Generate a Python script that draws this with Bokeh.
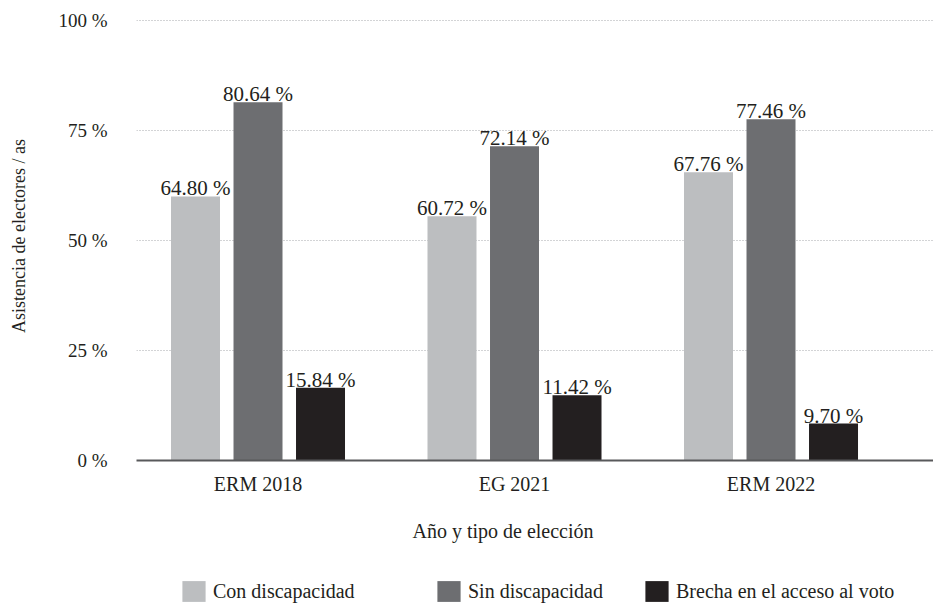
from bokeh.plotting import figure
from bokeh.layouts import column
from bokeh.models import ColumnDataSource, FixedTicker, Legend, LegendItem, Range1d, Title
from bokeh.transform import dodge
from bokeh.embed import file_html
from bokeh.resources import INLINE
from bokeh.core.properties import value

# ---- data ----
categories = ["ERM 2018", "EG 2021", "ERM 2022"]
series_names = ["Con discapacidad", "Sin discapacidad", "Brecha en el acceso al voto"]
con_disc = [60.0, 55.5, 65.5]
sin_disc = [81.4, 71.4, 77.5]
brecha = [16.5, 14.8, 8.4]
con_labels = ["64.80 %", "60.72 %", "67.76 %"]
sin_labels = ["80.64 %", "72.14 %", "77.46 %"]
brecha_labels = ["15.84 %", "11.42 %", "9.70 %"]
y_ticks = [0, 25, 50, 75, 100]
y_tick_labels = ["0 %", "25 %", "50 %", "75 %", "100 %"]
x_title = "Año y tipo de elección"
y_title = "Asistencia de electores / as"

# ---- styles ----
colors = ["#bcbec0", "#6d6e71", "#231f20"]
FONT = "Liberation Serif"
TXT = "#231f20"
BORDER_L = 136
FRAME_W = 797
X_RANGE = (-0.4737, 2.6335)

idx = list(range(len(categories)))
source = ColumnDataSource(dict(
    idx=idx, con=con_disc, sin=sin_disc, brecha=brecha,
    con_lbl=con_labels, sin_lbl=sin_labels, brecha_lbl=brecha_labels,
))

p = figure(
    frame_width=FRAME_W, frame_height=449,
    x_range=Range1d(*X_RANGE), y_range=Range1d(0, 102),
    output_backend="svg", toolbar_location=None,
    min_border_left=BORDER_L, min_border_right=0, min_border_top=11, min_border_bottom=100,
    background_fill_color="white", border_fill_color="white",
)
p.outline_line_color = None

offset = 0.2437
bar_w = 0.191
fields = [("con", "con_lbl"), ("sin", "sin_lbl"), ("brecha", "brecha_lbl")]
offs = [-offset, 0.0, offset]
for (fld, lbl), off, col in zip(fields, offs, colors):
    p.vbar(x=dodge("idx", off, range=p.x_range), top=fld, width=bar_w,
           source=source, fill_color=col, line_color=None)
    p.text(x=dodge("idx", off, range=p.x_range), y=fld, text=lbl, source=source,
           text_align="center", text_baseline="alphabetic", y_offset=-8,
           text_font=value(FONT), text_font_size="21px", text_color=TXT)

# ---- axes ----
for ax in (p.xaxis, p.yaxis):
    ax.major_tick_line_color = None
    ax.minor_tick_line_color = None
    ax.major_tick_out = 0
    ax.major_tick_in = 0
    ax.minor_tick_out = 0
    ax.minor_tick_in = 0
    ax.major_label_text_font = FONT
    ax.major_label_text_color = TXT
    ax.axis_label_text_font = FONT
    ax.axis_label_text_font_style = "normal"
    ax.axis_label_text_color = TXT

p.xaxis.ticker = FixedTicker(ticks=idx)
p.xaxis.major_label_overrides = {i: c for i, c in zip(idx, categories)}
p.xaxis.axis_line_color = "#58595b"
p.xaxis.axis_line_width = 2
p.xaxis.major_label_standoff = 12
p.xaxis.major_label_text_font_size = "20px"

# x-axis title, sitting under the category labels, a little left of the frame centre
p.add_layout(Title(text=x_title, align="left", offset=276, standoff=40,
                   text_font=FONT, text_font_size="20px", text_font_style="normal",
                   text_color=TXT), "below")

p.yaxis.ticker = FixedTicker(ticks=y_ticks)
p.yaxis.major_label_overrides = {t: l for t, l in zip(y_ticks, y_tick_labels)}
p.yaxis.axis_label = y_title
p.yaxis.axis_line_color = None
p.yaxis.major_label_standoff = 29
p.yaxis.axis_label_standoff = 26
p.yaxis.major_label_text_font_size = "19px"
p.yaxis.axis_label_text_font_size = "18px"

p.xgrid.visible = False
p.ygrid.ticker = FixedTicker(ticks=y_ticks)
p.ygrid.grid_line_color = "#a7a9ac"
p.ygrid.grid_line_dash = "1 2"
p.ygrid.grid_line_width = 1

# ---- legend strip: same frame geometry as the chart, entries placed individually ----
leg_fig = figure(
    frame_width=FRAME_W, frame_height=43,
    x_range=Range1d(*X_RANGE), y_range=Range1d(1000, 1001),
    output_backend="svg", toolbar_location=None,
    x_axis_location=None, y_axis_location=None,
    min_border_left=BORDER_L, min_border_right=0, min_border_top=0, min_border_bottom=0,
    background_fill_color="white", border_fill_color="white",
)
leg_fig.outline_line_color = None
leg_fig.xgrid.visible = False
leg_fig.ygrid.visible = False

legend_x = [43, 298, 506]
for (fld, _), off, name, col, lx in zip(fields, offs, series_names, colors, legend_x):
    # same series, lying outside this strip's visible y-range; only the legend key shows
    r = leg_fig.vbar(x=dodge("idx", off, range=leg_fig.x_range), top=fld, width=bar_w,
                     source=source, fill_color=col, line_color=None)
    leg = Legend(
        items=[LegendItem(label=name, renderers=[r])],
        location=(lx, 0), orientation="horizontal",
        padding=0, margin=0, spacing=0,
        border_line_color=None, background_fill_alpha=0,
        glyph_width=29, glyph_height=26, label_height=26, label_standoff=5,
        label_text_font=FONT, label_text_font_size="20px", label_text_color=TXT,
    )
    leg_fig.add_layout(leg, "center")

layout = column(p, leg_fig, spacing=0)
open("out.html", "w").write(file_html(layout, INLINE))
